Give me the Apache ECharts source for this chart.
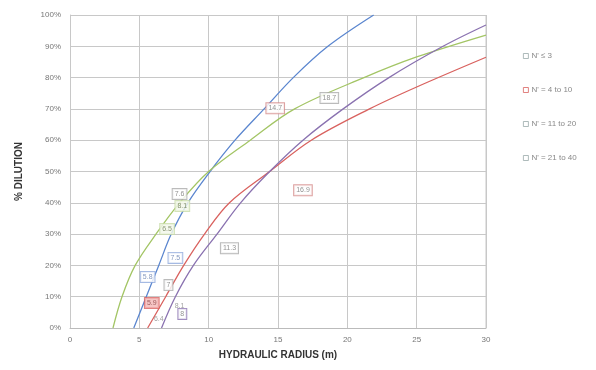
<!DOCTYPE html>
<html>
<head>
<meta charset="utf-8">
<script src="https://cdn.jsdelivr.net/npm/echarts@6/dist/echarts.min.js"></script>
<style>html,body{margin:0;padding:0;background:#fff}#c{width:596px;height:370px}</style>
</head>
<body>
<div id="c"></div>
<script>
// Series names (legend)
const seriesNames = ["N' \u2264 3", "N' = 4 to 10", "N' = 11 to 20", "N' = 21 to 40"];
// Curves: hydraulic radius (m) and % dilution
const blueX   = [4.6, 5.5, 6.4, 7.3, 8.5, 10.1, 11.9, 14.0, 16.1, 18.6, 21.9];
const blueY   = [0, 10, 20, 30, 40, 50, 60, 70, 80, 90, 100];
const redX    = [5.6, 6.9, 8.2, 9.7, 11.5, 14.4, 17.4, 21.6, 25, 30];
const redY    = [0, 10, 20, 30, 40, 50, 60, 70, 77, 86.5];
const greenX  = [3.1, 3.75, 4.7, 6.2, 7.9, 10, 13, 16.2, 21.2, 25, 30];
const greenY  = [0, 10, 20, 30, 40, 50, 60, 70, 80, 86.6, 93.6];
const purpleX = [6.6, 7.6, 8.9, 10.6, 12.3, 14.4, 16.8, 19.7, 23.0, 26.9, 30];
const purpleY = [0, 10, 20, 30, 40, 50, 60, 70, 80, 90, 96.8];
// Labelled data points (boxes)
const ptX     = [14.8, 18.7, 16.8, 11.5, 7.9, 8.1, 7.0, 7.6, 5.6, 7.1, 5.9, 6.4, 7.9, 8.1];
const ptY     = [70.2, 73.5, 44, 25.5, 42.8, 39, 31.6, 22.4, 16.3, 13.7, 8, 3, 7, 4.5];
const ptLabel = ["14.7", "18.7", "16.9", "11.3", "7.6", "8.1", "6.5", "7.5", "5.8", "7", "5.9", "6.4", "8.1", "8"];
const ptGroup = ["r", "g", "r", "g", "g", "n", "n", "b", "b", "g", "rf", "t", "t", "p"];
// Axis ticks
const xTicks = [0, 5, 10, 15, 20, 25, 30];
const yTicks = [0, 10, 20, 30, 40, 50, 60, 70, 80, 90, 100];

const colors = ['#5b86cf', '#d9625f', '#a3c565', '#8a72b0'];
const boxStyle = {
  r:  {borderColor: '#d48a88', backgroundColor: '#fff', color: '#777'},
  g:  {borderColor: '#aaaaaa', backgroundColor: '#fff', color: '#777'},
  n:  {borderColor: '#c8dca8', backgroundColor: '#f3f8ea', color: '#6a7a50'},
  b:  {borderColor: '#8fa9dc', backgroundColor: '#fff', color: '#6680b0'},
  rf: {borderColor: '#d9625f', backgroundColor: '#f4b8b6', color: '#8a4040'},
  t:  {borderColor: 'transparent', backgroundColor: 'transparent', color: '#888'},
  p:  {borderColor: '#8a72b0', backgroundColor: '#fff', color: '#777'}
};

function pairs(xs, ys) { return xs.map((x, i) => [x, ys[i]]); }
const curves = [pairs(blueX, blueY), pairs(redX, redY), pairs(greenX, greenY), pairs(purpleX, purpleY)];

const font = 'Liberation Sans, Arial, sans-serif';
const chart = echarts.init(document.getElementById('c'), null, {renderer: 'canvas'});
const lineSeries = curves.map((d, i) => ({
  name: seriesNames[i],
  type: 'line',
  data: d,
  smooth: 0.35,
  showSymbol: false,
  symbol: 'none',
  lineStyle: {color: colors[i], width: 1.3},
  itemStyle: {color: colors[i]},
  z: 2
}));
const pts = ptX.map((x, i) => {
  const s = boxStyle[ptGroup[i]];
  return {
    value: [x, ptY[i]],
    label: {
      show: true, formatter: ptLabel[i], position: 'inside',
      fontSize: 7, fontFamily: font, color: s.color,
      backgroundColor: s.backgroundColor, borderColor: s.borderColor,
      borderWidth: 1, padding: [2, 2, 1, 2]
    }
  };
});

chart.setOption({
  backgroundColor: '#fff',
  animation: false,
  grid: {left: 70, right: 110, top: 15, bottom: 42},
  legend: {
    orient: 'vertical', left: 518, top: 47,
    itemGap: 26, itemWidth: 5, itemHeight: 5, icon: 'rect',
    textStyle: {fontSize: 8, color: '#888', fontFamily: font, padding: [0, 0, 0, -2]},
    data: seriesNames.map((n, i) => ({
      name: n,
      itemStyle: {color: '#fff', borderColor: i === 1 ? '#d9625f' : '#9aa', borderWidth: 0.8}
    }))
  },
  xAxis: {
    type: 'value', min: 0, max: 30, interval: 5,
    name: 'HYDRAULIC RADIUS (m)', nameLocation: 'middle', nameGap: 22,
    nameTextStyle: {fontSize: 10, fontWeight: 'bold', color: '#333', fontFamily: font},
    axisLine: {show: true, lineStyle: {color: '#bbb'}},
    axisTick: {show: false},
    axisLabel: {fontSize: 8, color: '#777', fontFamily: font, margin: 8,
      formatter: v => xTicks.includes(v) ? String(v) : ''},
    splitLine: {show: true, lineStyle: {color: '#c8c8c8', width: 1}}
  },
  yAxis: {
    type: 'value', min: 0, max: 100, interval: 10,
    name: '% DILUTION', nameLocation: 'middle', nameGap: 46, nameRotate: 90,
    nameTextStyle: {fontSize: 10, fontWeight: 'bold', color: '#333', fontFamily: font},
    axisLine: {show: true, lineStyle: {color: '#c8c8c8'}},
    axisTick: {show: false},
    axisLabel: {fontSize: 8, color: '#777', fontFamily: font, margin: 9,
      formatter: v => yTicks.includes(v) ? v + '%' : ''},
    splitLine: {show: true, lineStyle: {color: '#c8c8c8', width: 1}}
  },
  series: lineSeries.concat([
    {
      type: 'line', data: [[30, 0], [30, 100]], symbol: 'none', silent: true,
      lineStyle: {color: '#c8c8c8', width: 1}, z: 1
    },
    {
      type: 'scatter', data: pts, symbolSize: 0, silent: true, z: 5
    }
  ])
});
</script>
</body>
</html>
